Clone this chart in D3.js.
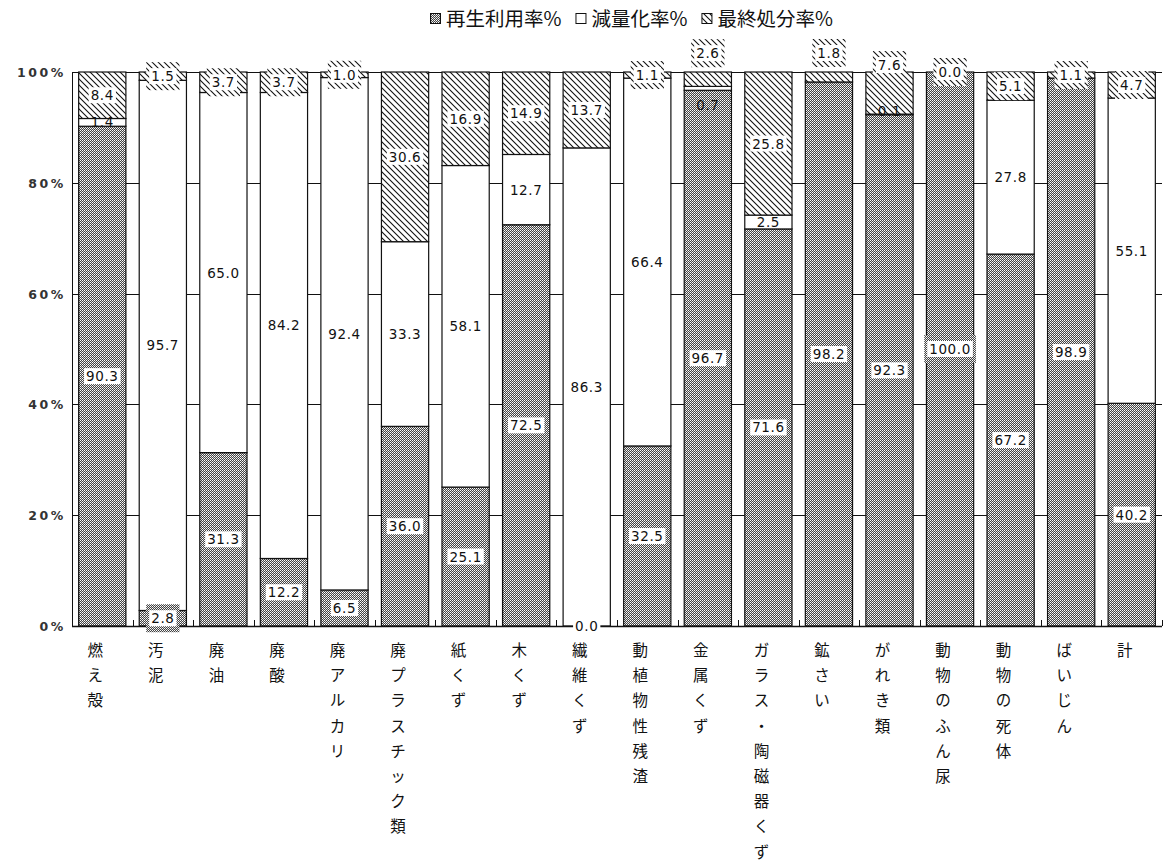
<!DOCTYPE html>
<html>
<head>
<meta charset="utf-8">
<script src="https://cdn.jsdelivr.net/npm/d3@7"></script>
<style>
  html, body { margin: 0; padding: 0; background: #fff; }
  svg { display: block; }
</style>
</head>
<body>
<svg id="chart" width="1165" height="863"></svg>
<script>
// Industrial waste treatment breakdown by waste type (100% stacked)
const categories = ["燃え殻","汚泥","廃油","廃酸","廃アルカリ","廃プラスチック類","紙くず","木くず","繊維くず","動植物性残渣","金属くず","ガラス・陶磁器くず","鉱さい","がれき類","動物のふん尿","動物の死体","ばいじん","計"];
const recycleRate   = [90.3, 2.8, 31.3, 12.2, 6.5, 36.0, 25.1, 72.5, 0.0, 32.5, 96.7, 71.6, 98.2, 92.3, 100.0, 67.2, 98.9, 40.2];
const reductionRate = [1.4, 95.7, 65.0, 84.2, 92.4, 33.3, 58.1, 12.7, 86.3, 66.4, 0.7, 2.5, 0.0, 0.1, 0.0, 27.8, 0.0, 55.1];
const disposalRate  = [8.4, 1.5, 3.7, 3.7, 1.0, 30.6, 16.9, 14.9, 13.7, 1.1, 2.6, 25.8, 1.8, 7.6, 0.0, 5.1, 1.1, 4.7];
const seriesNames = ["再生利用率%", "減量化率%", "最終処分率%"];
const yTickValues = [0, 20, 40, 60, 80, 100];

// Manual label offsets (px) per category: [recycle, reduction, disposal]
const labelNudge = {
  "金属くず": [0, 17, -26],
  "鉱さい":   [0, 0, -24],
  "がれき類": [0, -3, -28]
};

const svg = d3.select("#chart");
const plot = { left: 72, right: 1162, top: 72, bottom: 626 };

// Fill patterns: dark stipple, plain white, diagonal hatch
const defs = svg.append("defs");
const stip = defs.append("pattern").attr("id", "pStip")
  .attr("patternUnits", "userSpaceOnUse").attr("width", 2).attr("height", 2);
stip.append("rect").attr("width", 2).attr("height", 2).attr("fill", "#444");
stip.append("rect").attr("width", 1).attr("height", 1).attr("fill", "#fff");
stip.append("rect").attr("x", 1).attr("y", 1).attr("width", 1).attr("height", 1).attr("fill", "#d4d4d4");

const hatch = defs.append("pattern").attr("id", "pHatch")
  .attr("patternUnits", "userSpaceOnUse").attr("width", 6).attr("height", 6);
hatch.append("rect").attr("width", 6).attr("height", 6).attr("fill", "#fff");
hatch.append("path").attr("d", "M-1,-1 L7,7 M-1,5 L1,7 M5,-1 L7,1")
  .attr("stroke", "#111").attr("stroke-width", 1.1);

const fills = ["url(#pStip)", "#fff", "url(#pHatch)"];

// Data table and stack
const table = categories.map((c, i) => ({
  cat: c, r0: recycleRate[i], r1: reductionRate[i], r2: disposalRate[i]
}));
const keys = ["r0", "r1", "r2"];
const series = d3.stack().keys(keys).offset(d3.stackOffsetExpand)(table);

const x = d3.scaleBand().domain(categories).range([plot.left, plot.right])
  .paddingInner(0.22).paddingOuter(0.11);
const y = d3.scaleLinear().domain([0, 1]).range([plot.bottom, plot.top]);

// Gridlines
svg.append("g").selectAll("line").data(yTickValues).join("line")
  .attr("x1", plot.left).attr("x2", plot.right)
  .attr("y1", d => Math.round(y(d / 100)) + 0.5).attr("y2", d => Math.round(y(d / 100)) + 0.5)
  .attr("stroke", "#111").attr("stroke-width", 1);

// Y tick labels
svg.append("g").selectAll("text").data(yTickValues).join("text")
  .attr("x", 66).attr("y", d => y(d / 100) + 5)
  .attr("text-anchor", "end")
  .attr("font-family", "DejaVu Sans, sans-serif").attr("font-size", 12.5)
  .attr("font-weight", "bold")
  .attr("letter-spacing", 2.6).attr("fill", "#333")
  .text(d => d + "%");

// Bars
const gBars = svg.append("g");
series.forEach((s, si) => {
  gBars.append("g").selectAll("rect").data(s).join("rect")
    .attr("x", d => x(d.data.cat))
    .attr("width", x.bandwidth())
    .attr("y", d => y(d[1]))
    .attr("height", d => Math.max(0, y(d[0]) - y(d[1])))
    .attr("fill", fills[si])
    .attr("stroke", "#111").attr("stroke-width", 1.2);
});

// Axes lines and category boundary ticks
svg.append("line").attr("x1", plot.left + 0.5).attr("x2", plot.left + 0.5)
  .attr("y1", plot.top).attr("y2", plot.bottom).attr("stroke", "#111");
svg.append("line").attr("x1", plot.left).attr("x2", plot.right)
  .attr("y1", plot.bottom + 0.5).attr("y2", plot.bottom + 0.5).attr("stroke", "#111").attr("stroke-width", 1.5);
svg.append("g").selectAll("line").data(d3.range(categories.length + 1)).join("line")
  .attr("x1", i => Math.round(plot.left + i * x.step()) + 0.5)
  .attr("x2", i => Math.round(plot.left + i * x.step()) + 0.5)
  .attr("y1", plot.bottom).attr("y2", plot.bottom - 6)
  .attr("stroke", "#111");

// Data labels
const fmt = d3.format(".1f");
const rawValues = [recycleRate, reductionRate, disposalRate];
const gLab = svg.append("g");
series.forEach((s, si) => {
  s.forEach((d, ci) => {
    const v = rawValues[si][ci];
    if (si === 1 && v === 0) return;
    const nudge = labelNudge[d.data.cat] ? labelNudge[d.data.cat][si] : 0;
    const cx = x(d.data.cat) + x.bandwidth() / 2;
    const cy = (y(d[0]) + y(d[1])) / 2 + nudge;
    const g = gLab.append("g");
    const t = g.append("text")
      .attr("x", cx).attr("y", cy + 5)
      .attr("text-anchor", "middle")
      .attr("font-family", "DejaVu Sans, sans-serif").attr("font-size", 13.5)
      .attr("letter-spacing", 0.6).attr("fill", "#111")
      .text(fmt(v));
    const bb = t.node().getBBox();
    if (si !== 1) {
      // patterned halo, except for an empty base segment on the axis
      if (!(si === 0 && v === 0)) {
        g.insert("rect", "text")
          .attr("x", bb.x - 5).attr("y", bb.y - 6)
          .attr("width", bb.width + 10).attr("height", bb.height + 12)
          .attr("fill", fills[si]);
      }
      g.insert("rect", "text")
        .attr("x", bb.x - 2).attr("y", bb.y)
        .attr("width", bb.width + 4).attr("height", bb.height)
        .attr("fill", "#fff");
    }
  });
});

// Category labels (vertical, one character per line)
const gx = svg.append("g");
categories.forEach(c => {
  const cx = x(c) + x.bandwidth() / 2 - 7;
  Array.from(c).forEach((ch, k) => {
    gx.append("text")
      .attr("x", cx).attr("y", 656 + k * 25.2)
      .attr("text-anchor", "middle")
      .attr("font-family", "Noto Sans CJK JP, sans-serif").attr("font-size", 15.5)
      .attr("fill", "#111")
      .text(ch);
  });
});

// Legend
const legend = svg.append("g");
let lx = 430;
seriesNames.forEach((name, si) => {
  legend.append("rect").attr("x", lx + 0.5).attr("y", 13.5).attr("width", 10).attr("height", 10)
    .attr("fill", fills[si]).attr("stroke", "#111");
  const t = legend.append("text").attr("x", lx + 16).attr("y", 26)
    .attr("font-family", "Noto Sans CJK JP, sans-serif").attr("font-size", 19.5)
    .attr("fill", "#111").text(name);
  lx += 16 + t.node().getComputedTextLength() + 14;
});
</script>
</body>
</html>
